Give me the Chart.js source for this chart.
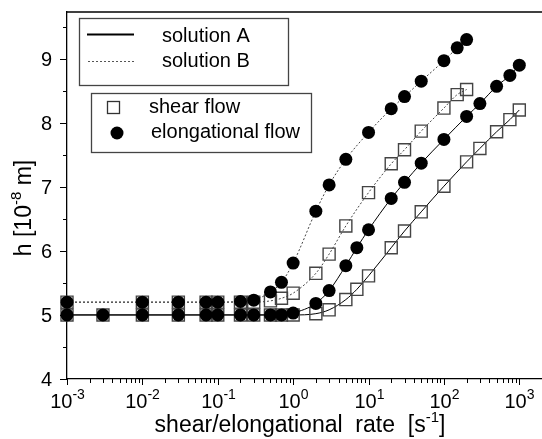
<!DOCTYPE html>
<html>
<head>
<meta charset="utf-8">
<script src="https://cdn.jsdelivr.net/npm/chart.js@4.4.0/dist/chart.umd.min.js"></script>
<style>
  body { margin: 0; background: #fff; }
  #caja { width: 542px; height: 439px; position: relative; }
</style>
</head>
<body>
<div id="caja"><canvas id="grafica"></canvas></div>
<script>
/* datos */
const rateShearA = [0.001, 0.003, 0.01, 0.03, 0.07, 0.1, 0.2, 0.3, 0.5, 0.7, 1, 2, 3, 5, 7, 10, 20, 30, 50, 100, 200, 300, 500, 750, 1000];
const hShearA    = [5, 5, 5, 5, 5, 5, 5, 5, 5, 5, 5, 5.02, 5.08, 5.24, 5.40, 5.61, 6.05, 6.31, 6.61, 7.01, 7.39, 7.60, 7.86, 8.05, 8.20];
const rateElongA = [0.001, 0.003, 0.01, 0.03, 0.07, 0.1, 0.2, 0.3, 0.5, 0.7, 1, 2, 3, 5, 7, 10, 20, 30, 50, 100, 200, 300, 500, 750, 1000];
const hElongA    = [5, 5, 5, 5, 5, 5, 5, 5, 5, 5, 5.03, 5.18, 5.38, 5.77, 6.05, 6.33, 6.82, 7.07, 7.37, 7.74, 8.10, 8.30, 8.57, 8.74, 8.90];
const rateShearB = [0.001, 0.01, 0.03, 0.07, 0.1, 0.2, 0.3, 0.5, 0.7, 1, 2, 3, 5, 10, 20, 30, 50, 100, 150, 200];
const hShearB    = [5.2, 5.2, 5.2, 5.2, 5.2, 5.2, 5.2, 5.22, 5.26, 5.34, 5.65, 5.95, 6.39, 6.91, 7.36, 7.58, 7.87, 8.23, 8.44, 8.52];
const rateElongB = [0.001, 0.01, 0.03, 0.07, 0.1, 0.2, 0.3, 0.5, 0.7, 1, 2, 3, 5, 10, 20, 30, 50, 100, 150, 200];
const hElongB    = [5.2, 5.2, 5.2, 5.2, 5.2, 5.21, 5.23, 5.36, 5.51, 5.81, 6.62, 7.03, 7.43, 7.85, 8.22, 8.41, 8.65, 8.97, 9.17, 9.30];

const xTickExps = [-3, -2, -1, 0, 1, 2, 3];
const yTickVals = [4, 5, 6, 7, 8, 9];
const yMinorVals = [4.5, 5.5, 6.5, 7.5, 8.5, 9.5];
const lineLabels = ['solution A', 'solution B'];
const markerLabels = ['shear flow', 'elongational flow'];

const FONT = '"Liberation Sans", Arial, sans-serif';

function pares(xs, ys) {
  return xs.map((x, i) => ({ x: x, y: ys[i] }));
}

function textoSup(c, base, sup, x, y, size, supSize, align) {
  c.font = size + 'px ' + FONT;
  const wb = c.measureText(base).width;
  c.font = supSize + 'px ' + FONT;
  const ws = c.measureText(sup).width;
  let x0 = x;
  if (align === 'center') x0 = x - (wb + ws) / 2;
  c.textAlign = 'left';
  c.textBaseline = 'alphabetic';
  c.font = size + 'px ' + FONT;
  c.fillText(base, x0, y);
  c.font = supSize + 'px ' + FONT;
  c.fillText(sup, x0 + wb, y - size * 0.45);
  return x0 + wb + ws;
}

/* ejes, marcas, titulos y leyendas */
const extras = {
  id: 'extras',
  afterDraw(chart) {
    const c = chart.ctx;
    const xs = chart.scales.x, ys = chart.scales.y;
    const a = chart.chartArea;
    c.save();
    c.strokeStyle = '#000';
    c.fillStyle = '#000';
    c.lineWidth = 1.3;
    // borde superior
    c.beginPath();
    c.moveTo(a.left, a.top);
    c.lineTo(chart.width, a.top);
    c.stroke();

    c.lineWidth = 1;
    // marcas eje y
    yTickVals.forEach(v => {
      const p = Math.round(ys.getPixelForValue(v)) + 0.5;
      c.beginPath(); c.moveTo(a.left - 7, p); c.lineTo(a.left, p); c.stroke();
      c.font = '20px ' + FONT;
      c.textAlign = 'right';
      c.textBaseline = 'middle';
      c.fillText(String(v), a.left - 15, p + 1);
    });
    yMinorVals.forEach(v => {
      const p = Math.round(ys.getPixelForValue(v)) + 0.5;
      c.beginPath(); c.moveTo(a.left - 4, p); c.lineTo(a.left, p); c.stroke();
    });
    // marcas eje x
    xTickExps.forEach(e => {
      const p = Math.round(xs.getPixelForValue(Math.pow(10, e))) + 0.5;
      c.beginPath(); c.moveTo(p, a.bottom); c.lineTo(p, a.bottom + 6); c.stroke();
      textoSup(c, '10', String(e), p, a.bottom + 29, 20, 14, 'center');
      for (let k = 2; k <= 9; k++) {
        const v = k * Math.pow(10, e);
        if (v > xs.max) break;
        const q = Math.round(xs.getPixelForValue(v)) + 0.5;
        c.beginPath(); c.moveTo(q, a.bottom); c.lineTo(q, a.bottom + 4); c.stroke();
      }
    });

    // titulo eje x
    const partes = ['shear/elongational  rate  [s', '-1', ']'];
    c.font = '23px ' + FONT;
    const w1 = c.measureText(partes[0]).width;
    const w3 = c.measureText(partes[2]).width;
    c.font = '15px ' + FONT;
    const w2 = c.measureText(partes[1]).width;
    const x0 = 300 - (w1 + w2 + w3) / 2;
    const xe = textoSup(c, partes[0], partes[1], x0 + (w1 + w2) / 2, 432, 23, 15, 'center');
    c.font = '23px ' + FONT;
    c.textAlign = 'left';
    c.fillText(partes[2], xe, 432);

    // titulo eje y
    c.save();
    c.translate(31, 208);
    c.rotate(-Math.PI / 2);
    c.font = '23px ' + FONT;
    const t1 = 'h [10', t3 = ' m]';
    const a1 = c.measureText(t1).width, a3 = c.measureText(t3).width;
    c.font = '15px ' + FONT;
    const a2 = c.measureText('-8').width;
    const ye = textoSup(c, t1, '-8', -(a1 + a2 + a3) / 2 + (a1 + a2) / 2, 0, 23, 15, 'center');
    c.font = '23px ' + FONT;
    c.textAlign = 'left';
    c.fillText(t3, ye, 0);
    c.restore();

    // leyenda 1: lineas
    c.lineWidth = 1.3;
    c.strokeStyle = '#444';
    c.strokeRect(79.5, 18.5, 209, 67);
    c.strokeStyle = '#000';
    c.lineWidth = 2;
    c.beginPath(); c.moveTo(87, 34.5); c.lineTo(134, 34.5); c.stroke();
    c.lineWidth = 1;
    c.strokeStyle = '#555';
    c.setLineDash([2, 2]);
    c.beginPath(); c.moveTo(88, 61.5); c.lineTo(136, 61.5); c.stroke();
    c.setLineDash([]);
    c.font = '20px ' + FONT;
    c.textAlign = 'left';
    c.textBaseline = 'alphabetic';
    c.fillText(lineLabels[0], 162, 42);
    c.fillText(lineLabels[1], 162, 67);

    // leyenda 2: simbolos
    c.lineWidth = 1.3;
    c.strokeStyle = '#444';
    c.strokeRect(91.5, 93.5, 220, 59);
    c.strokeStyle = '#333';
    c.strokeRect(107.5, 101.5, 12, 12);
    c.beginPath(); c.arc(117, 133, 6.5, 0, Math.PI * 2); c.fill();
    c.fillText(markerLabels[0], 149, 113);
    c.fillText(markerLabels[1], 151, 138);
    c.restore();
  }
};

const circulo = { pointStyle: 'circle', pointRadius: 6.5, pointHoverRadius: 6.5, pointBackgroundColor: '#000', pointBorderColor: '#000', pointBorderWidth: 0 };
const cuadro = { pointStyle: 'rect', pointRadius: 8.5, pointHoverRadius: 8.5, pointBackgroundColor: 'rgba(0,0,0,0)', pointBorderColor: '#444', pointBorderWidth: 1.4 };

new Chart(document.getElementById('grafica'), {
  type: 'scatter',
  data: {
    datasets: [
      Object.assign({ label: 'elongational A', data: pares(rateElongA, hElongA), showLine: true, borderColor: '#000', borderWidth: 1, cubicInterpolationMode: 'monotone', clip: false }, circulo),
      Object.assign({ label: 'elongational B', data: pares(rateElongB, hElongB), showLine: true, borderColor: '#444', borderWidth: 1, borderDash: [2, 2], cubicInterpolationMode: 'monotone', clip: false }, circulo),
      Object.assign({ label: 'shear A', data: pares(rateShearA, hShearA), showLine: true, borderColor: '#000', borderWidth: 1, cubicInterpolationMode: 'monotone', clip: false }, cuadro),
      Object.assign({ label: 'shear B', data: pares(rateShearB, hShearB), showLine: true, borderColor: '#444', borderWidth: 1, borderDash: [2, 2], cubicInterpolationMode: 'monotone', clip: false }, cuadro)
    ]
  },
  options: {
    responsive: true,
    maintainAspectRatio: false,
    animation: false,
    layout: { autoPadding: false, padding: { top: 12, left: 0, right: 0, bottom: 0 } },
    plugins: { legend: { display: false }, tooltip: { enabled: false } },
    scales: {
      x: {
        type: 'logarithmic',
        min: 0.001,
        max: 2000,
        grid: { display: false },
        border: { display: true, color: '#000', width: 1.3 },
        ticks: { display: false },
        afterFit: s => { s.height = 60; }
      },
      y: {
        type: 'linear',
        min: 4,
        max: 9.73,
        grid: { display: false },
        border: { display: true, color: '#000', width: 1.3 },
        ticks: { display: false },
        afterFit: s => { s.width = 67; }
      }
    }
  },
  plugins: [extras]
});
</script>
</body>
</html>
